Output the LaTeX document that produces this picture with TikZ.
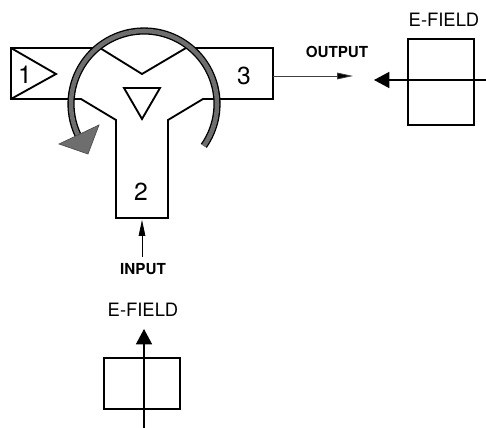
\documentclass[tikz,border=0pt]{standalone}
\usepackage{fontspec}
\setmainfont{TeX Gyre Heros}
\usetikzlibrary{arrows.meta}
\definecolor{bandgray}{RGB}{110,110,110}
\tikzset{
  wall/.style={draw=black,line width=1.4pt,line join=miter},
  portnum/.style={font=\fontsize{18.5}{20}\selectfont,inner sep=0pt},
  fieldlabel/.style={font=\fontsize{13.8}{15}\selectfont,inner sep=0pt},
  portlabel/.style={font=\fontsize{11.4}{13}\selectfont\bfseries,inner sep=0pt},
  fieldbox/.style={rectangle,draw=black,line width=1.2pt,inner sep=0pt},
  fieldedge/.style={-{Triangle[length=11.5pt,width=12pt]},line width=1.2pt},
  portedge/.style={-{Triangle[length=12pt,width=5pt,fill=black]},line width=0.6pt},
  band/.style={line width=1pt,double=bandgray,double distance=3.4pt,line cap=butt}
}
\begin{document}
\begin{tikzpicture}[x=0.75pt,y=0.75pt]
  \useasboundingbox (0,0) rectangle (486,428);
  % circulator body
  \draw[wall] (11,380) -- (100,380) -- (142,354) -- (186,380) -- (273,380) -- (273,329)
    -- (203,329) -- (168,308) -- (168,210) -- (116,210) -- (116,308) -- (81,329) -- (11,329) -- cycle;
  \draw[wall] (11,380) -- (56,354) -- (11,329);
  \draw[wall] (124,340) -- (160,340) -- (142,309) -- cycle;
  \node[portnum] (one) at (25,353) {1};
  \node[portnum] (two) at (141,236) {2};
  \node[portnum] (three) at (244,352) {3};
  % rotation sense
  \coordinate (hub) at (144,324);
  \draw[band] ([shift=(-35:73)]hub) arc[start angle=-35,end angle=205,radius=73];
  \fill[bandgray,draw=black!70,line width=0.5pt] (59,284) -- (99,303) -- (88,274) -- cycle;
  % ports
  \coordinate (outport) at (273,352);
  \coordinate (outtip) at (353,352);
  \coordinate (inport) at (142,208);
  \coordinate (intail) at (142,171);
  \node[portlabel] (output) at (337,376) {OUTPUT};
  \node[portlabel] (input) at (143,159) {INPUT};
  \draw[portedge,draw=black!75] (outport) -- (outtip);
  \draw[portedge] (intail) -- (inport);
  % field at port 3
  \node[fieldlabel] (fieldthree) at (444,408) {E-FIELD};
  \node[fieldbox,minimum width=49.5pt,minimum height=64.5pt] (boxthree) at (441,346) {};
  \coordinate (threeend) at (486,348);
  \coordinate (threetip) at (374,348);
  \draw[fieldedge] (threeend) -- (threetip);
  % field at port 2
  \node[fieldlabel] (fieldtwo) at (143,118) {E-FIELD};
  \node[fieldbox,minimum width=57pt,minimum height=38.25pt] (boxtwo) at (142,44.5) {};
  \coordinate (twoend) at (144,0);
  \coordinate (twotip) at (144,99);
  \draw[fieldedge] (twoend) -- (twotip);
\end{tikzpicture}
\end{document}
